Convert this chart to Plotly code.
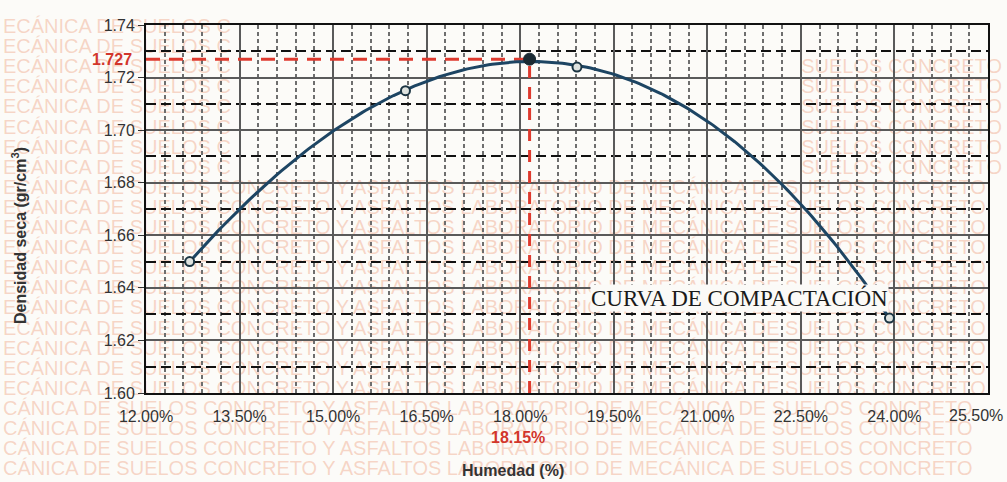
import numpy as np
import plotly.graph_objects as go

# Compaction test results (moisture % vs dry density g/cm3)
humedad = [12.70, 16.16, 18.15, 18.91, 23.92]
densidad = [1.650, 1.715, 1.727, 1.724, 1.6285]

# Optimum point
hum_opt = 18.15
dens_opt = 1.727

x_ticks = [12.0, 13.5, 15.0, 16.5, 18.0, 19.5, 21.0, 22.5, 24.0, 25.5]
x_ticktext = ["12.00%", "13.50%", "15.00%", "16.50%", "18.00%", "19.50%",
              "21.00%", "22.50%", "24.00%", "25.50%"]
y_ticks = [1.60, 1.62, 1.64, 1.66, 1.68, 1.70, 1.72, 1.74]
y_ticktext = ["1.60", "1.62", "1.64", "1.66", "1.68", "1.70", "1.72", "1.74"]

WM_LEFT = "ECÁNICA DE SUELOS C"
WM_RIGHT = "SUELOS CONCRETO"
WM_FULL = "ECÁNICA DE SUELOS CONCRETO Y ASFALTOS LABORATORIO DE MECÁNICA DE SUELOS CONCRETO"
WM_FULL_B = "CÁNICA DE SUELOS CONCRETO Y ASFALTOS LABORATORIO DE MECÁNICA DE SUELOS CONCRETO"

W, H = 1007, 482
L, R, T, B = 146, 19, 25, 89
PW, PH = W - L - R, H - T - B


def px(xp):
    return (xp - L) / PW


def py(yp):
    return (H - B - yp) / PH


CURVE = "#1d4563"
RED = "#de3a2e"
WM_COLOR = "rgba(236,150,115,0.38)"
SANS = "Liberation Sans, Arial"
TICK_FONT = dict(family=SANS, size=16, color="#333333")

# 3rd-order polynomial trend line of the test points
coef = np.polyfit(humedad, densidad, 3)
x_trend = np.linspace(min(humedad), max(humedad), 200)
y_trend = np.polyval(coef, x_trend)

fig = go.Figure()

# red guides to the optimum
fig.add_trace(go.Scatter(x=[x_ticks[0], hum_opt], y=[dens_opt, dens_opt], mode="lines",
                         line=dict(color=RED, width=3, dash="14px,9px"),
                         hoverinfo="skip", showlegend=False))
fig.add_trace(go.Scatter(x=[hum_opt, hum_opt], y=[y_ticks[0], dens_opt], mode="lines",
                         line=dict(color=RED, width=3, dash="12px,9px"),
                         hoverinfo="skip", showlegend=False))

# compaction curve
fig.add_trace(go.Scatter(x=x_trend, y=y_trend, mode="lines",
                         line=dict(color=CURVE, width=3),
                         showlegend=False))
fig.add_trace(go.Scatter(x=humedad, y=densidad, mode="markers",
                         marker=dict(symbol="circle", size=9, color="#dfe3df",
                                     line=dict(color="#1b3442", width=2)),
                         showlegend=False))
fig.add_trace(go.Scatter(x=[hum_opt], y=[dens_opt], mode="markers",
                         marker=dict(symbol="circle", size=12, color="#1a2a33",
                                     line=dict(color="#1a2a33", width=1)),
                         showlegend=False))

# background watermark rows, drawn beneath the grid and the curve
shapes = []


def wm_row(x0p, x1p, yp, text, pos):
    shapes.append(dict(type="rect", xref="paper", yref="paper",
                       x0=px(x0p), x1=px(x1p), y0=py(yp + 9), y1=py(yp - 9),
                       line=dict(width=0), fillcolor="rgba(0,0,0,0)", layer="below",
                       label=dict(text=text, textposition=pos, padding=0,
                                  font=dict(family=SANS, size=20, color=WM_COLOR))))


for k in range(23):
    yp = 24 + 20.1 * k
    if yp < 175:
        wm_row(0, 400, yp, WM_LEFT, "middle left")
        if yp > 55:
            wm_row(700, 1005, yp, WM_RIGHT, "middle right")
    elif yp < 400:
        wm_row(0, 1005, yp, WM_FULL, "middle left")
    else:
        wm_row(0, 1005, yp, WM_FULL_B, "middle left")

annotations = []

# last x label, pulled inside the page edge
annotations.append(dict(x=x_ticks[-1], y=0, xref="x", yref="paper", text=x_ticktext[-1],
                        showarrow=False, xanchor="right", yanchor="top", xshift=17, yshift=-12,
                        font=TICK_FONT))

# optimum value labels
annotations.append(dict(x=0, y=dens_opt, xref="paper", yref="y", text="<b>%.3f</b>" % dens_opt,
                        showarrow=False, xanchor="right", yanchor="middle", xshift=-12,
                        font=dict(family=SANS, size=16, color="#d2352b")))
annotations.append(dict(x=hum_opt, y=py(437), xref="x", yref="paper", text="<b>%.2f%%</b>" % hum_opt,
                        showarrow=False, xanchor="center", yanchor="middle", xshift=-12,
                        font=dict(family=SANS, size=16, color="#d2352b")))

# curve caption
annotations.append(dict(x=px(739), y=py(298), xref="paper", yref="paper",
                        text="CURVA DE COMPACTACIÓN", showarrow=False,
                        xanchor="center", yanchor="middle", bgcolor="#fbfaf7", borderpad=0,
                        font=dict(family="Liberation Serif, Times New Roman", size=23, color="#1a1a1a")))

# axis titles
annotations.append(dict(x=px(513), y=py(470), xref="paper", yref="paper", text="<b>Humedad (%)</b>",
                        showarrow=False, xanchor="center", yanchor="middle",
                        font=dict(family=SANS, size=16, color="#333333")))
annotations.append(dict(x=px(19), y=py(236), xref="paper", yref="paper",
                        text="<b>Densidad seca (gr/cm<sup>3</sup>)</b>", textangle=-90,
                        showarrow=False, xanchor="center", yanchor="middle",
                        font=dict(family=SANS, size=16, color="#333333")))

fig.update_layout(
    width=W, height=H,
    margin=dict(l=L, r=R, t=T, b=B, autoexpand=False),
    paper_bgcolor="#fcfbf8",
    plot_bgcolor="rgba(0,0,0,0)",
    annotations=annotations,
    shapes=shapes,
    showlegend=False,
)

fig.update_xaxes(
    range=[x_ticks[0], x_ticks[-1]],
    tickvals=x_ticks[:-1], ticktext=x_ticktext[:-1],
    tickfont=TICK_FONT,
    ticks="", ticklabelstandoff=8, automargin=False,
    showgrid=True, gridcolor="#5a5a5a", gridwidth=1.5,
    minor=dict(dtick=0.3, tick0=12.0, showgrid=True, gridcolor="#6e6e6e",
               gridwidth=1.5, griddash="4px,3px"),
    showline=True, linecolor="#111111", linewidth=2, mirror=True,
    zeroline=False,
)
fig.update_yaxes(
    range=[y_ticks[0], y_ticks[-1]],
    tickvals=y_ticks, ticktext=y_ticktext,
    tickfont=TICK_FONT,
    ticks="outside", ticklen=6, tickcolor="#333333", tickwidth=1, automargin=False,
    showgrid=True, gridcolor="#5a5a5a", gridwidth=1.5,
    minor=dict(dtick=0.01, tick0=1.60, showgrid=True, gridcolor="#111111",
               gridwidth=2, griddash="10px,5px"),
    showline=True, linecolor="#111111", linewidth=2, mirror=True,
    zeroline=False,
)

fig.write_html("out.html")
